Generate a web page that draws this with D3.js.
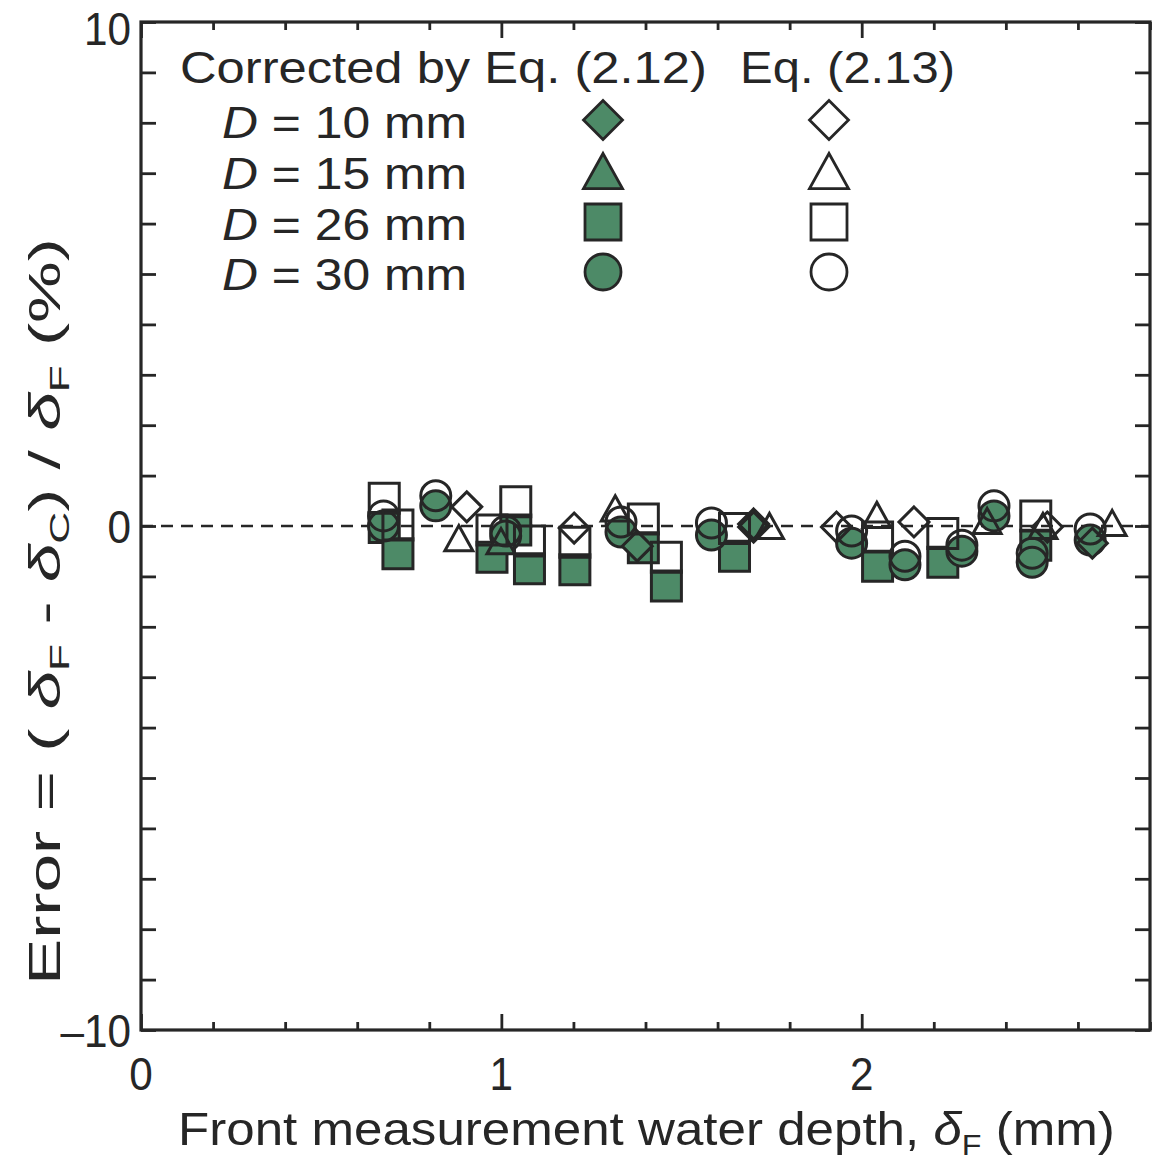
<!DOCTYPE html>
<html><head><meta charset="utf-8">
<script src="https://cdn.jsdelivr.net/npm/d3@7"></script>
<style>html,body{margin:0;padding:0;background:#fff}svg{display:block}</style>
</head><body>
<svg id="chart" width="1162" height="1162"></svg>
<script>
// ---- data ----
const xDomain = [0, 2.8];
const yDomain = [-10, 10];
const xTickLabels = [0, 1, 2];
const yTickLabels = [10, 0, -10];
const legendLabels = ["D = 10 mm", "D = 15 mm", "D = 26 mm", "D = 30 mm"];

// D = 10 mm (diamonds)
const d10FilledX = [1.377, 1.700, 2.640];
const d10FilledY = [-0.40, -0.02, -0.34];
const d10OpenX = [0.904, 1.202, 1.700, 1.930, 2.145, 2.515];
const d10OpenY = [0.38, -0.04, 0.04, -0.02, 0.08, -0.02];
// D = 15 mm (triangles)
const d15FilledX = [0.999];
const d15FilledY = [-0.30];
const d15OpenX = [0.882, 1.316, 1.744, 2.042, 2.348, 2.503, 2.695];
const d15OpenY = [-0.24, 0.35, 0.00, 0.22, 0.10, 0.00, 0.06];
// D = 26 mm (squares)
const d26X = [0.675, 0.713, 0.974, 1.040, 1.078, 1.204, 1.394, 1.458, 1.647, 2.044, 2.225, 2.483];
const d26FilledY = [-0.03, -0.55, -0.62, -0.08, -0.85, -0.87, -0.43, -1.19, -0.60, -0.80, -0.72, -0.38];
const d26OpenY = [0.55, 0.02, -0.08, 0.48, -0.30, -0.32, 0.14, -0.62, -0.05, -0.22, -0.15, 0.20];
// D = 30 mm (circles)
const d30X = [0.673, 0.818, 1.012, 1.332, 1.583, 1.972, 2.120, 2.278, 2.367, 2.473, 2.634];
const d30FilledY = [0.00, 0.40, -0.20, -0.12, -0.18, -0.34, -0.77, -0.50, 0.20, -0.72, -0.28];
const d30OpenY = [0.20, 0.60, -0.10, 0.08, 0.06, -0.10, -0.60, -0.38, 0.40, -0.54, -0.06];

// ---- layout ----
const L = 141, R = 1150, T = 22, B = 1030;
const GREEN = "#4d8a67", INK = "#262626";
const FONT = "'Liberation Sans', Arial, sans-serif";

const svg = d3.select("#chart");
const x = d3.scaleLinear().domain(xDomain).range([L, R]);
const y = d3.scaleLinear().domain(yDomain).range([B, T]);

// stretch a text horizontally so it spans [x0, x1]
function fit(textSel, x0, x1, yb) {
  const w = textSel.node().getComputedTextLength();
  textSel.attr("x", 0).attr("y", 0)
    .attr("transform", `translate(${x0},${yb}) scale(${(x1 - x0) / w},1)`);
}

// custom symbol types (size = half-width)
const sym = {
  diamond: {draw(c, h){ c.moveTo(0,-h); c.lineTo(h,0); c.lineTo(0,h); c.lineTo(-h,0); c.closePath(); }},
  triangle: {draw(c, h){ const hh = h*0.9; c.moveTo(0,-hh); c.lineTo(h,hh); c.lineTo(-h,hh); c.closePath(); }},
  square: {draw(c, h){ c.rect(-h,-h,2*h,2*h); }},
  circle: {draw(c, h){ c.moveTo(h,0); c.arc(0,0,h,0,2*Math.PI); }}
};
const dataSize = {diamond: 15, triangle: 14, square: 15, circle: 15};
const legSize = {diamond: 19.5, triangle: 19.5, square: 18, circle: 18};

// zero dashed line
svg.append("line").attr("x1", L).attr("x2", R).attr("y1", y(0)).attr("y2", y(0))
  .attr("stroke", INK).attr("stroke-width", 2.4).attr("stroke-dasharray", "12,8");

// data
function zip(xs, ys){ return xs.map((v,i)=>({x:v, y:ys[i]})); }
const series = [
  {shape:"square", filled:true, pts: zip(d26X, d26FilledY)},
  {shape:"circle", filled:true, pts: zip(d30X, d30FilledY)},
  {shape:"triangle", filled:true, pts: zip(d15FilledX, d15FilledY)},
  {shape:"diamond", filled:true, pts: zip(d10FilledX, d10FilledY)},
  {shape:"square", filled:false, pts: zip(d26X, d26OpenY)},
  {shape:"circle", filled:false, pts: zip(d30X, d30OpenY)},
  {shape:"triangle", filled:false, pts: zip(d15OpenX, d15OpenY)},
  {shape:"diamond", filled:false, pts: zip(d10OpenX, d10OpenY)}
];
const plot = svg.append("g");
series.forEach(s => {
  const gen = d3.symbol().type(sym[s.shape]).size(dataSize[s.shape]);
  plot.selectAll(null).data(s.pts).join("path")
    .attr("transform", d => `translate(${x(d.x)},${y(d.y)})`)
    .attr("d", gen)
    .attr("fill", s.filled ? GREEN : "none")
    .attr("stroke", INK).attr("stroke-width", 3);
});

// axes
const yTicks = d3.range(-10, 11, 1);
const xMinor = d3.range(0, 2.81, 0.2).map(v => +v.toFixed(1));
const axG = svg.append("g");
axG.append("g").attr("transform", `translate(${L},0)`)
  .call(d3.axisRight(y).tickValues(yTicks).tickSize(15).tickFormat(""))
  .call(g => g.select(".domain").remove());
axG.append("g").attr("transform", `translate(${R},0)`)
  .call(d3.axisLeft(y).tickValues(yTicks).tickSize(15).tickFormat(""))
  .call(g => g.select(".domain").remove());
axG.append("g").attr("transform", `translate(0,${B})`)
  .call(d3.axisTop(x).tickValues(xMinor).tickSize(8).tickFormat(""))
  .call(g => g.select(".domain").remove())
  .call(g => g.selectAll(".tick line").filter(d => Math.abs(d - Math.round(d)) < 1e-6).attr("y2", -16));
axG.append("g").attr("transform", `translate(0,${T})`)
  .call(d3.axisBottom(x).tickValues(xMinor).tickSize(8).tickFormat(""))
  .call(g => g.select(".domain").remove())
  .call(g => g.selectAll(".tick line").filter(d => Math.abs(d - Math.round(d)) < 1e-6).attr("y2", 16));
axG.selectAll(".tick line").attr("stroke", INK).attr("stroke-width", 2.8);
svg.append("rect").attr("x", L).attr("y", T).attr("width", R - L).attr("height", B - T)
  .attr("fill", "none").attr("stroke", INK).attr("stroke-width", 3.2);

// tick labels
svg.append("g").selectAll("text").data(yTickLabels).join("text")
  .attr("transform", d => `translate(${L - 10},${Math.max(y(d) + 17, 45)}) scale(0.92,1)`)
  .attr("text-anchor", "end").attr("font-family", FONT).attr("font-size", 46).attr("fill", INK)
  .text(d => d < 0 ? "\u2013" + Math.abs(d) : d);
svg.append("g").selectAll("text").data(xTickLabels).join("text")
  .attr("transform", d => `translate(${x(d)},1090) scale(0.92,1)`)
  .attr("text-anchor", "middle").attr("font-family", FONT).attr("font-size", 46).attr("fill", INK)
  .text(d => d);

// x title
const xt = svg.append("text").attr("font-family", FONT).attr("font-size", 46).attr("fill", INK);
xt.append("tspan").text("Front measurement water depth,  ");
xt.append("tspan").attr("font-style", "italic").text("\u03B4");
xt.append("tspan").attr("font-size", 29).attr("dy", 10).text("F");
xt.append("tspan").attr("dy", -10).text(" (mm)");
fit(xt, 178, 1115, 1145);

// y title (rotated, stretched along its length)
const ytG = svg.append("g").attr("transform", "translate(60,985) rotate(-90)");
const yt = ytG.append("text").attr("font-family", FONT).attr("font-size", 44).attr("fill", INK);
yt.append("tspan").text("Error = ( ");
yt.append("tspan").attr("font-style", "italic").text("\u03B4");
yt.append("tspan").attr("font-size", 28).attr("dy", 9).text("F");
yt.append("tspan").attr("dy", -9).text(" - ");
yt.append("tspan").attr("font-style", "italic").text("\u03B4");
yt.append("tspan").attr("font-size", 28).attr("dy", 9).text("C");
yt.append("tspan").attr("dy", -9).text(") / ");
yt.append("tspan").attr("font-style", "italic").text("\u03B4");
yt.append("tspan").attr("font-size", 28).attr("dy", 9).text("F");
yt.append("tspan").attr("dy", -9).text(" (%)");
fit(yt, 0, 747, 0);

// legend
const leg = svg.append("g").attr("font-family", FONT).attr("fill", INK);
fit(leg.append("text").attr("font-size", 45).text("Corrected by Eq. (2.12)"), 180, 707, 83);
fit(leg.append("text").attr("font-size", 45).text("Eq. (2.13)"), 740, 955, 83);
const legShapes = ["diamond", "triangle", "square", "circle"];
const rowBase = [138, 189, 240, 290];
legendLabels.forEach((lab, i) => {
  const t = leg.append("text").attr("font-size", 45);
  t.append("tspan").attr("font-style", "italic").text("D");
  t.append("tspan").text(lab.slice(1));
  fit(t, 222, 467, rowBase[i]);
  const gen = d3.symbol().type(sym[legShapes[i]]).size(legSize[legShapes[i]]);
  [[603, GREEN], [829, "none"]].forEach(([cx, f]) => {
    leg.append("path").attr("transform", `translate(${cx},${rowBase[i] - 18})`).attr("d", gen)
      .attr("fill", f).attr("stroke", INK).attr("stroke-width", 2.8);
  });
});
</script>
</body></html>
